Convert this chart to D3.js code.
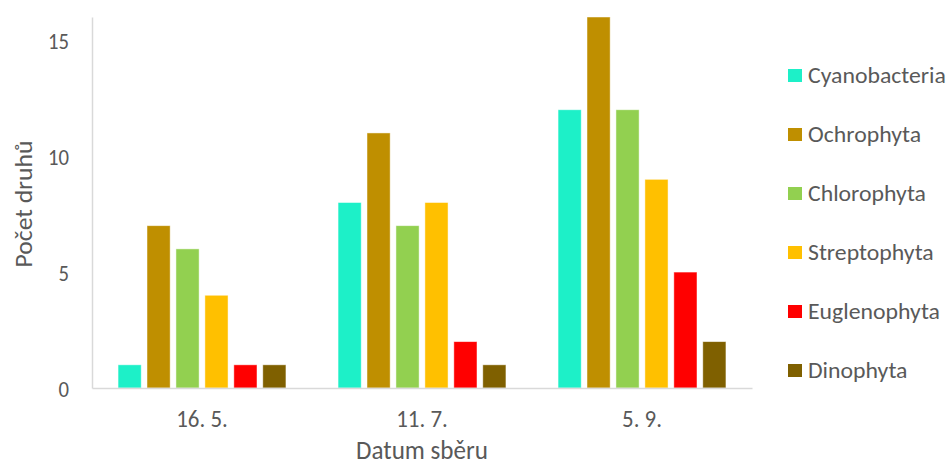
<!DOCTYPE html>
<html><head><meta charset="utf-8">
<script src="https://cdn.jsdelivr.net/npm/d3@7"></script>
<style>body{margin:0;background:#fff;} svg{display:block;} text{font-family:Carlito,Lato,"Open Sans",sans-serif;fill:#595959;}</style>
</head><body>
<svg id="chart" width="947" height="465"></svg>
<script>
const categories = ["16. 5.", "11. 7.", "5. 9."];
const seriesNames = ["Cyanobacteria","Ochrophyta","Chlorophyta","Streptophyta","Euglenophyta","Dinophyta"];
const cyanobacteria = [1, 8, 12];
const ochrophyta = [7, 11, 16];
const chlorophyta = [6, 7, 12];
const streptophyta = [4, 8, 9];
const euglenophyta = [1, 2, 5];
const dinophyta = [1, 1, 2];
const colors = ["#1DF0C8","#BF8F00","#92D050","#FFC000","#FF0000","#7F6000"];
const yTicks = [0, 5, 10, 15];

const seriesValues = [cyanobacteria, ochrophyta, chlorophyta, streptophyta, euglenophyta, dinophyta];
const svg = d3.select("#chart");
const m = {left: 92, right: 752, top: 17, bottom: 388};
const CAP = 0.7165;

// size a text so that a reference string has a given width and cap height
function fitSize(sample, targetW, targetCap) {
  const t = svg.append("text").style("font-size", "100px").text(sample);
  const w = t.node().getComputedTextLength();
  t.remove();
  const f = 100 * targetW / w;
  return {f, k: targetCap / (CAP * f)};
}
const legFit = fitSize("Cyanobacteria", 138, 16);
const xtFit = fitSize("5. 9.", 40, 17);
const ytFit = fitSize("15", 21, 16);
const xtitleFit = fitSize("Datum sběru", 132, 19);
const ytitleFit = fitSize("Počet druhů", 127, 18);

const x0 = d3.scaleBand().domain(categories).range([m.left, m.right]).paddingInner(0).paddingOuter(0);
const x1 = d3.scaleBand().domain(seriesNames).range([0, x0.bandwidth()]).paddingInner(0.2).paddingOuter(0.9);
const y = d3.scaleLinear().domain([0, 16]).range([m.bottom, m.top]);

const g = svg.append("g");
categories.forEach((c, ci) => {
  const grp = g.append("g").attr("transform", `translate(${x0(c)},0)`);
  seriesNames.forEach((s, si) => {
    const v = seriesValues[si][ci];
    grp.append("rect")
      .attr("x", x1(s)).attr("width", x1.bandwidth())
      .attr("y", y(v)).attr("height", y(0) - y(v))
      .attr("fill", colors[si])
      .attr("stroke", "rgba(255,255,255,0.6)").attr("stroke-width", 0.8);
  });
});

// axes
const yAxis = d3.axisLeft(y).tickValues(yTicks).tickSize(0);
const ya = svg.append("g").attr("transform", `translate(${m.left},0)`).call(yAxis);
ya.select(".domain").attr("stroke", "#D9D9D9").attr("stroke-width", 1.5);
ya.selectAll(".tick text").attr("x", null).attr("y", null).attr("dy", null)
  .attr("text-anchor", "end")
  .attr("transform", `translate(-23,8) scale(1,${ytFit.k})`)
  .style("font-size", ytFit.f + "px");

const xAxis = d3.axisBottom(x0).tickSize(0);
const xa = svg.append("g").attr("transform", `translate(0,${m.bottom})`).call(xAxis);
xa.select(".domain").attr("stroke", "#D9D9D9").attr("stroke-width", 1.5);
xa.selectAll(".tick text").attr("y", null).attr("dy", null)
  .attr("transform", `translate(0,39) scale(1,${xtFit.k})`)
  .style("font-size", xtFit.f + "px");
svg.selectAll(".tick text").attr("fill", "#595959").style("font-family", "Carlito,Lato,'Open Sans',sans-serif");

// axis titles
svg.append("text")
  .attr("transform", `translate(${(m.left + m.right) / 2},${440 + CAP * xtitleFit.f * xtitleFit.k}) scale(1,${xtitleFit.k})`)
  .attr("text-anchor", "middle").style("font-size", xtitleFit.f + "px").text("Datum sběru");
svg.append("text")
  .attr("transform", `translate(32,204) rotate(-90) scale(1,${ytitleFit.k})`)
  .attr("text-anchor", "middle").style("font-size", ytitleFit.f + "px").text("Počet druhů");

// legend
const leg = svg.append("g");
seriesNames.forEach((s, i) => {
  const top = 69 + i * 59;
  leg.append("rect").attr("x", 788).attr("y", top).attr("width", 14).attr("height", 13).attr("fill", colors[i]);
  leg.append("text").attr("transform", `translate(808,${top + 14}) scale(1,${legFit.k})`)
    .style("font-size", legFit.f + "px").text(s);
});
</script>
</body></html>
